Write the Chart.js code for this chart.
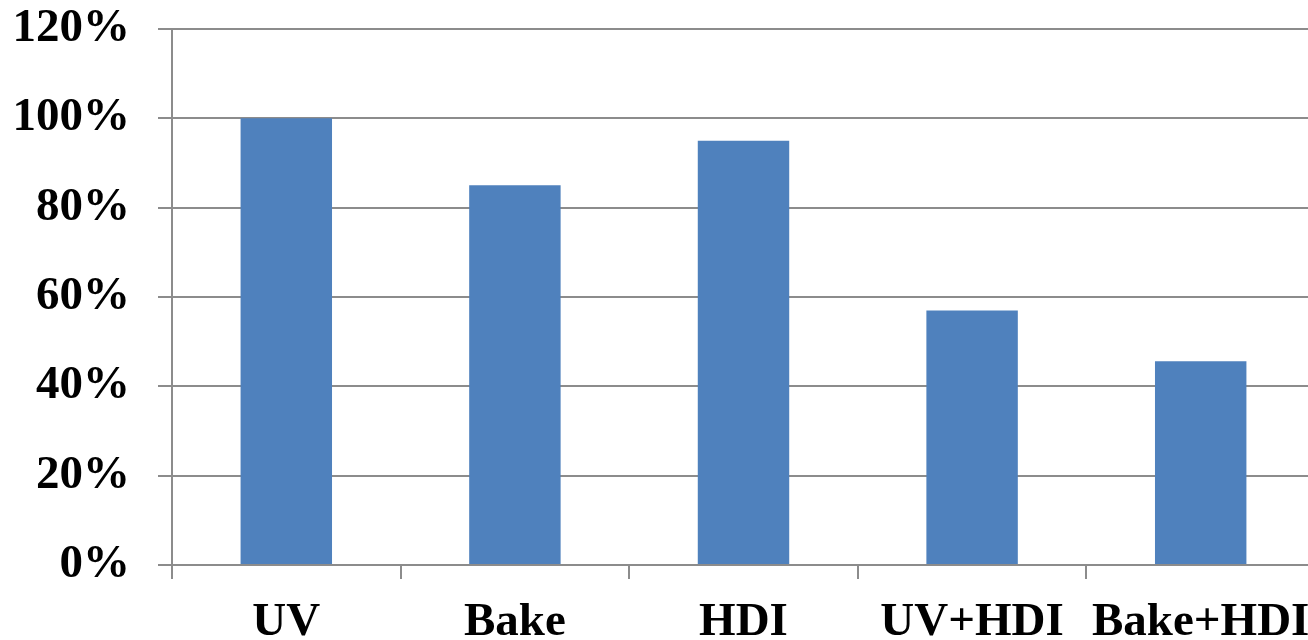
<!DOCTYPE html>
<html>
<head>
<meta charset="utf-8">
<script src="https://cdn.jsdelivr.net/npm/chart.js@4/dist/chart.umd.min.js"></script>
<style>
  html, body { margin: 0; padding: 0; background: #ffffff; overflow: hidden; }
  #wrap { position: relative; width: 1315px; height: 640px; }
</style>
</head>
<body>
<div id="wrap"><canvas id="chart"></canvas></div>
<script>
// Process categories and their relative values (percent)
const categories = ['UV', 'Bake', 'HDI', 'UV+HDI', 'Bake+HDI'];
const values = [100, 85, 95, 57, 45.6];

// Value axis range
const yMin = 0;
const yMax = 120;
const yStep = 20;

const gridColor = '#8c8c8c';
const labelFont = { family: "'Liberation Serif', 'Times New Roman', serif", size: 47, weight: 'bold' };

new Chart(document.getElementById('chart'), {
  type: 'bar',
  data: {
    labels: categories,
    datasets: [{
      data: values,
      backgroundColor: '#4f81bd',
      borderWidth: 0,
      barPercentage: 0.8,
      categoryPercentage: 0.5
    }]
  },
  options: {
    responsive: true,
    maintainAspectRatio: false,
    animation: false,
    layout: { padding: { top: 29, right: 0, bottom: 0, left: 0 } },
    plugins: {
      legend: { display: false },
      tooltip: { enabled: false }
    },
    scales: {
      x: {
        offset: true,
        grid: {
          offset: true,
          drawOnChartArea: false,
          drawTicks: true,
          tickLength: 14,
          color: gridColor,
          lineWidth: 2
        },
        border: { display: true, color: gridColor, width: 2 },
        ticks: {
          color: '#000000',
          font: labelFont,
          padding: 16,
          maxRotation: 0,
          autoSkip: false
        },
        afterFit(scale) {
          scale.height = 75;
          scale.paddingLeft = 0;
          scale.paddingRight = 0;
        }
      },
      y: {
        min: yMin,
        max: yMax,
        grid: {
          drawTicks: true,
          tickLength: 14,
          color: gridColor,
          lineWidth: 2
        },
        border: { display: true, color: gridColor, width: 2 },
        ticks: {
          stepSize: yStep,
          color: '#000000',
          font: labelFont,
          padding: 28,
          callback: (v) => v + '%'
        },
        afterFit(scale) {
          scale.width = 172;
          scale.paddingTop = 0;
          scale.paddingBottom = 0;
        }
      }
    }
  }
});
</script>
</body>
</html>
